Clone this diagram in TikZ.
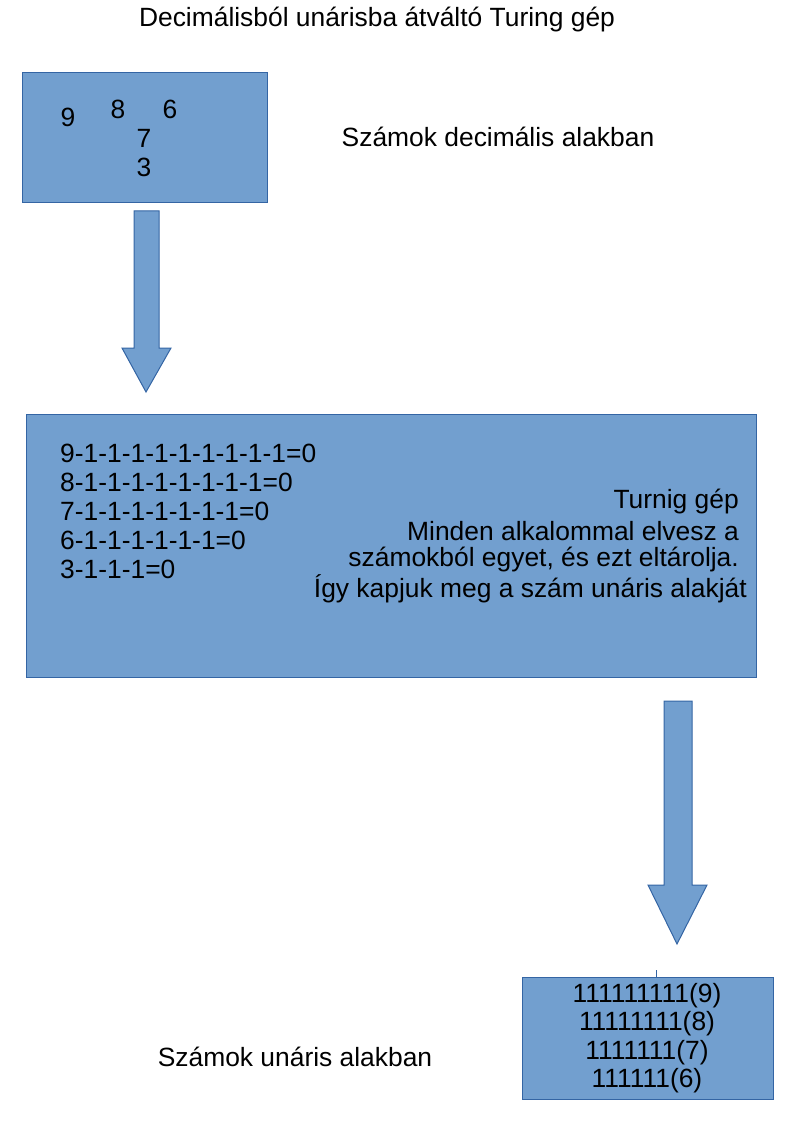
\documentclass[tikz,border=0pt]{standalone}
\usepackage{fontspec}
\setmainfont{Liberation Sans}
\definecolor{boxfill}{HTML}{729FCF}
\definecolor{boxline}{HTML}{3465A4}
\tikzset{
  shp/.style={fill=boxfill, draw=boxline, line width=1pt},
  txt/.style={inner sep=0pt, font=\fontsize{26.4}{31}\selectfont, text=black},
  lbl/.style={inner sep=0pt, font=\fontsize{26.4}{31}\selectfont, text=black}
}
\begin{document}
\begin{tikzpicture}[x=1pt,y=-1pt]
\useasboundingbox (0,0) rectangle (794,1123);
% title
\node[lbl] (title) at (377,20) {Decimálisból unárisba átváltó Turing gép};
% top box
\draw[shp] (22,73) rectangle (267,203);
\node[txt] (n9) at (68,117) {9};
\node[txt] (n8) at (118,109) {8};
\node[txt] (n6) at (170,109) {6};
\node[txt] (n7) at (144,138) {7};
\node[txt] (n3) at (144,167) {3};
\node[lbl] (dec) at (498,137) {Számok decimális alakban};
% arrow 1
\draw[shp] (134,211) -- (159,211) -- (159,348) -- (171,348) -- (146,392) -- (122,348) -- (134,348) -- cycle;
% middle box
\draw[shp] (26,414) rectangle (756,677);
\node[txt, anchor=west] (l1) at (60,453) {9-1-1-1-1-1-1-1-1-1=0};
\node[txt, anchor=west] (l2) at (60,482) {8-1-1-1-1-1-1-1-1=0};
\node[txt, anchor=west] (l3) at (60,511) {7-1-1-1-1-1-1-1=0};
\node[txt, anchor=west] (l4) at (60,540) {6-1-1-1-1-1-1=0};
\node[txt, anchor=west] (l5) at (60,569) {3-1-1-1=0};
\node[txt, anchor=east] (r1) at (739,502) {Turnig gép};
\node[txt, anchor=east] (r2) at (739,531) {Minden alkalommal elvesz a};
\node[txt, anchor=east] (r3) at (739,560) {számokból egyet, és ezt eltárolja.};
\node[txt, anchor=east] (r4) at (747,589) {Így kapjuk meg a szám unáris alakját};
% arrow 2
\draw[shp] (664,701) -- (692,701) -- (692,885) -- (707,885) -- (677,944) -- (648,885) -- (664,885) -- cycle;
% bottom box
\draw[boxline, line width=0.8pt] (656,970) -- (656,977);
\draw[shp] (522,977) rectangle (773,1099);
\node[txt] (b1) at (647,996) {111111111(9)};
\node[txt] (b2) at (647,1024) {11111111(8)};
\node[txt] (b3) at (647,1053) {1111111(7)};
\node[txt] (b4) at (647,1081) {111111(6)};
\node[lbl] (un) at (295,1057) {Számok unáris alakban};
\end{tikzpicture}
\end{document}
